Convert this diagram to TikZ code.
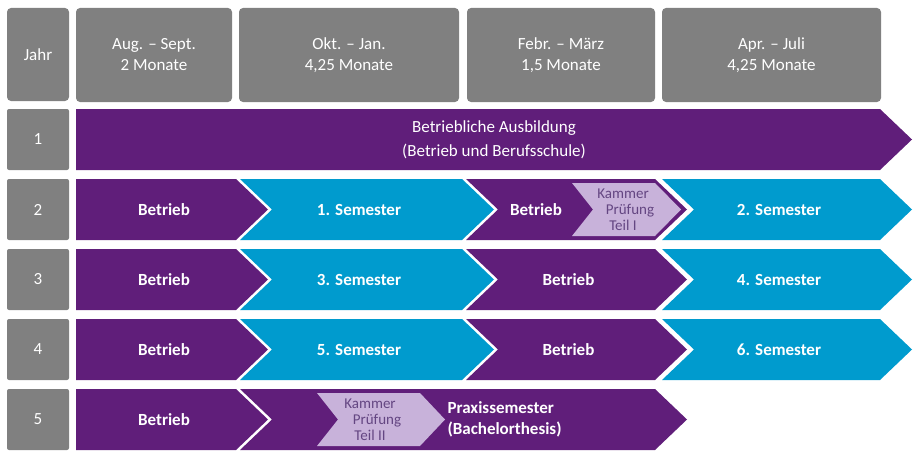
\documentclass[tikz,border=0pt]{standalone}
\usepackage{fontspec}
\setmainfont{Carlito}
\definecolor{lila}{RGB}{96,30,122}
\definecolor{blau}{RGB}{0,155,206}
\definecolor{grau}{RGB}{128,128,128}
\definecolor{hell}{RGB}{200,178,218}
\definecolor{helltext}{RGB}{100,70,130}
\tikzset{
  kopf/.style={fill=grau,rounded corners=4pt,text=white,align=center,font=\fontsize{17}{21}\selectfont},
  etikett/.style={text=white,align=center,font=\fontsize{17}{21}\selectfont\bfseries},
  pruef/.style={text=helltext,align=center,font=\fontsize{15}{16}\selectfont}
}
% chevron: name, x0, x1, top, bottom, notch, tip, colour, text
\newcommand\chev[9]{%
  \fill[#8] (#2,#4) -- (#3,#4) -- ({#3+#7},{(#4+#5)/2}) -- (#3,#5) -- (#2,#5)
    -- ({#2+#6},{(#4+#5)/2}) -- cycle;
  \node[etikett] (#1) at ({(#2+#3)/2+8},{(#4+#5)/2}) {#9};}
\begin{document}
\begin{tikzpicture}[x=1pt,y=-1pt]
  \useasboundingbox (0,0) rectangle (920,460);

  % column heads
  \node[kopf,minimum width=62pt,minimum height=93pt] (jahr) at (38,54.5) {Jahr};
  \node[kopf,minimum width=156pt,minimum height=94pt] (aug) at (154,55) {Aug. -- Sept.\\2 Monate};
  \node[kopf,minimum width=220pt,minimum height=94pt] (okt) at (349,55) {Okt. -- Jan.\\4,25 Monate};
  \node[kopf,minimum width=188pt,minimum height=94pt] (feb) at (561,55) {Febr. -- März\\1,5 Monate};
  \node[kopf,minimum width=219pt,minimum height=94pt] (apr) at (771.5,55) {Apr. -- Juli\\4,25 Monate};

  % year numbers
  \foreach \j/\y in {1/139.5,2/209.5,3/279.5,4/349.5,5/419.5}
    \node[kopf,rounded corners=2pt,minimum width=62pt,minimum height=61pt] (j\j) at (38,\y) {\j};

  % year 1
  \fill[lila] (76,109) -- (880,109) -- (912,139.5) -- (880,170) -- (76,170) -- cycle;
  \node[etikett,font=\fontsize{17}{24}\selectfont] (ausb) at (494,139.5)
    {Betriebliche Ausbildung\\\mdseries(Betrieb und Berufsschule)};

  % year 2
  \chev{b2a}{76}{236}{179}{240}{0}{32}{lila}{Betrieb}
  \chev{b2b}{240}{462}{179}{240}{32}{32}{blau}{1. Semester}
  \fill[lila] (466,179) -- (655,179) -- (687,209.5) -- (655,240) -- (466,240) -- (498,209.5) -- cycle;
  \node[etikett] (b2c) at (536,209.5) {Betrieb};
  \fill[hell] (572,183) -- (655,183) -- (681,209.5) -- (655,236) -- (572,236) -- (593,209.5) -- cycle;
  \node[pruef] (k1) at (623,209.5) {Kammer\\\hspace*{14pt}Prüfung\\Teil I};
  \chev{b2d}{662}{880}{179}{240}{32}{32}{blau}{2. Semester}

  % year 3
  \chev{b3a}{76}{236}{249}{310}{0}{32}{lila}{Betrieb}
  \chev{b3b}{240}{462}{249}{310}{32}{32}{blau}{3. Semester}
  \chev{b3c}{466}{655}{249}{310}{32}{32}{lila}{Betrieb}
  \chev{b3d}{662}{880}{249}{310}{32}{32}{blau}{4. Semester}

  % year 4
  \chev{b4a}{76}{236}{319}{380}{0}{32}{lila}{Betrieb}
  \chev{b4b}{240}{462}{319}{380}{32}{32}{blau}{5. Semester}
  \chev{b4c}{466}{655}{319}{380}{32}{32}{lila}{Betrieb}
  \chev{b4d}{662}{880}{319}{380}{32}{32}{blau}{6. Semester}

  % year 5
  \chev{b5a}{76}{236}{389}{450}{0}{32}{lila}{Betrieb}
  \fill[lila] (240,389) -- (655,389) -- (687,419.5) -- (655,450) -- (240,450) -- (272,419.5) -- cycle;
  \fill[hell] (317,393) -- (420,393) -- (445,419.5) -- (420,446) -- (317,446) -- (338,419.5) -- cycle;
  \node[pruef] (k2) at (370,419.5) {Kammer\\\hspace*{14pt}Prüfung\\Teil II};
  \node[etikett,align=left,anchor=west] (praxis) at (444,419.5) {Praxissemester\\(Bachelorthesis)};
\end{tikzpicture}
\end{document}
